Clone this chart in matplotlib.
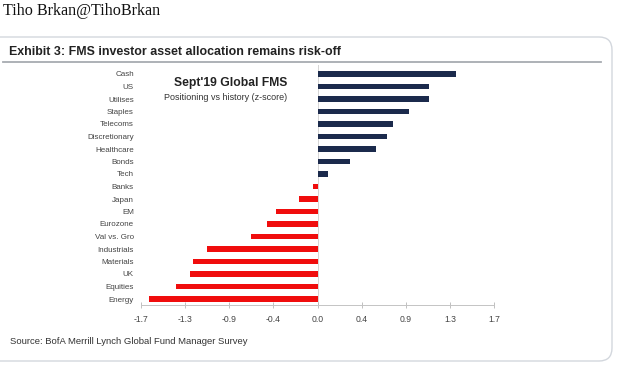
import numpy as np
import matplotlib
matplotlib.use("Agg")
import matplotlib.pyplot as plt
from matplotlib.patches import FancyBboxPatch

plt.rcParams['font.family'] = ['Liberation Sans', 'DejaVu Sans']

# positioning vs history (z-score)
categories = ["Cash", "US", "Utilises", "Staples", "Telecoms", "Discretionary",
              "Healthcare", "Bonds", "Tech", "Banks", "Japan", "EM", "Eurozone",
              "Val vs. Gro", "Industrials", "Materials", "UK", "Equities", "Energy"]
zscores = [1.36, 1.10, 1.10, 0.90, 0.74, 0.68, 0.58, 0.32, 0.10, -0.04, -0.18,
           -0.41, -0.50, -0.65, -1.09, -1.23, -1.25, -1.39, -1.66]
tick_vals = [-1.74, -1.305, -0.87, -0.435, 0.0, 0.435, 0.87, 1.305, 1.74]
tick_labels = ["-1.7", "-1.3", "-0.9", "-0.4", "0.0", "0.4", "0.9", "1.3", "1.7"]

navy = "#1b2a4c"
red = "#f00d0d"

fig = plt.figure(figsize=(6.23, 3.70), dpi=100)

# background layer in pixel units for the frame and texts
bg = fig.add_axes([0, 0, 1, 1])
bg.set_xlim(0, 623)
bg.set_ylim(370, 0)
bg.axis("off")
# left edge of the frame is cropped off in the screenshot
bg.add_patch(FancyBboxPatch((-30, 37), 642, 324,
                            boxstyle="round,pad=0,rounding_size=13",
                            fc="none", ec="#d3d7dd", lw=1.0))
bg.plot([3, 601], [61.5, 61.5], color="#a7abb1", lw=1.3)
bg.text(3, 11, "Tiho Brkan@TihoBrkan", family="Liberation Serif", fontsize=11.6,
        va="center", ha="left", color="#111111")
bg.text(9, 52, "Exhibit 3: FMS investor asset allocation remains risk-off",
        fontsize=8.9, fontweight="bold", va="center", ha="left", color="#222222")
bg.text(10, 342, "Source: BofA Merrill Lynch Global Fund Manager Survey",
        fontsize=6.8, va="center", ha="left", color="#333333")

# main bar chart
ax = fig.add_axes([140.7 / 623, 65 / 370, 353.6 / 623, 240 / 370])
y = np.arange(len(categories))
colors = [navy if v >= 0 else red for v in zscores]
ax.barh(y, zscores, height=0.42, color=colors, zorder=3)
ax.axvline(0, color="#d5d5d5", lw=0.7, zorder=1)

ax.set_xlim(-1.74, 1.74)
ax.set_ylim(18.48, -0.72)
ax.set_yticks(y)
ax.set_yticklabels(categories, fontsize=5.8, color="#444444")
ax.set_xticks(tick_vals)
ax.set_xticklabels(tick_labels, fontsize=6.2, color="#444444")
ax.tick_params(axis="y", length=0, pad=5)
ax.tick_params(axis="x", direction="inout", length=4, width=0.6, color="#b5b5b5", pad=5)
for s in ["top", "right", "left"]:
    ax.spines[s].set_visible(False)
ax.spines["bottom"].set_color("#c4c4c4")
ax.spines["bottom"].set_linewidth(0.7)
ax.patch.set_alpha(0)

ax.text(-0.30, 0.75, "Sept'19 Global FMS", fontsize=8.7, fontweight="bold",
        ha="right", va="center", color="#222222")
ax.text(-0.30, 1.85, "Positioning vs history (z-score)", fontsize=6.5,
        ha="right", va="center", color="#333333")

fig.savefig("out.png", dpi=100)
